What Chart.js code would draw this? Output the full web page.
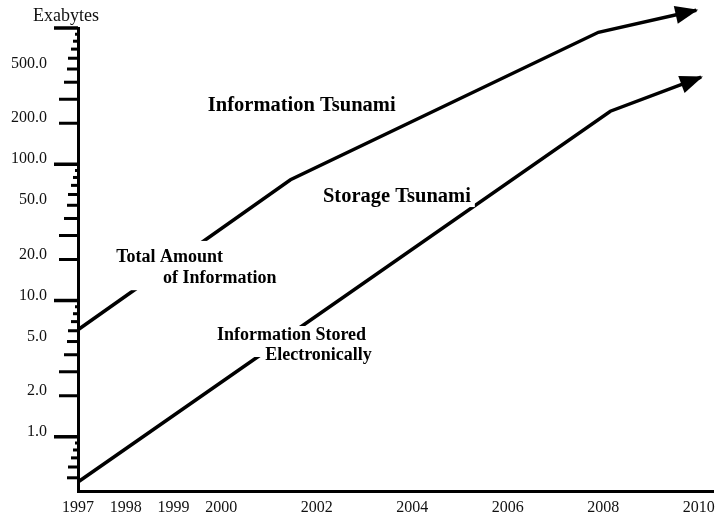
<!DOCTYPE html>
<html>
<head>
<meta charset="utf-8">
<script src="https://cdn.jsdelivr.net/npm/chart.js@4/dist/chart.umd.min.js"></script>
<style>
html,body{margin:0;padding:0;background:#fff;}
canvas{display:block;}
</style>
</head>
<body>
<canvas id="c" width="719" height="516"></canvas>
<script>
// ---- data ----
const xTickYears  = [1997, 1998, 1999, 2000, 2002, 2004, 2006, 2008, 2010];
const xTickLabels = ['1997', '1998', '1999', '2000', '2002', '2004', '2006', '2008', '2010'];
const yTickValues = [1, 2, 5, 10, 20, 50, 100, 200, 500];
const yTickLabels = ['1.0', '2.0', '5.0', '10.0', '20.0', '50.0', '100.0', '200.0', '500.0'];
const yAxisTitle = 'Exabytes';

const totalYears     = [1997, 2001.45, 2007.9, 2009.95];
const totalExabytes  = [6.1, 77, 930, 1350];
const storedYears    = [1997, 2008.15, 2010.05];
const storedExabytes = [0.466, 245, 436];

const noteTexts = [
  ['Information Tsunami'],
  ['Storage Tsunami'],
  ['Total Amount', 'of Information'],
  ['Information Stored', 'Electronically']
];
// anchor of each text line (left edge, baseline) in data units
const noteYears  = [[1999.72], [2002.13], [1997.80, 1998.78], [1999.91, 2000.92]];
const noteValues = [[245], [52.8], [19.2, 13.4], [5.13, 3.66]];

// ---- styling ----
const SERIF = "'Liberation Serif', 'Times New Roman', serif";
const noteStyle = [
  {size: 20.5, pad: {top: 16, bottom: 5, x: 4}},
  {size: 20.5, pad: {top: 16, bottom: 5, x: 4}},
  {size: 18,   pad: {top: 21, bottom: 7, x: 8}},
  {size: 18,   pad: {top: 14, bottom: -3, x: 8}}
];
const minorTickLen = [24, 19, 19, 14, 11, 10, 7, 5, 3];

function pairs(xs, ys) { return xs.map((x, i) => ({x: x, y: ys[i]})); }

const decorations = {
  id: 'decorations',
  afterDatasetsDraw(chart) {
    const ctx = chart.ctx;
    const xs = chart.scales.x, ys = chart.scales.y;
    // arrowheads
    chart.data.datasets.forEach((ds, i) => {
      const pts = chart.getDatasetMeta(i).data;
      const a = pts[pts.length - 2], b = pts[pts.length - 1];
      const ang = Math.atan2(b.y - a.y, b.x - a.x);
      ctx.save();
      ctx.translate(b.x, b.y);
      ctx.rotate(ang);
      ctx.beginPath();
      ctx.moveTo(2, 0);
      ctx.lineTo(-21, -9);
      ctx.lineTo(-21, 9);
      ctx.closePath();
      ctx.fillStyle = '#000';
      ctx.fill();
      ctx.restore();
    });
    // text notes with white boxes
    noteTexts.forEach((lines, n) => {
      const st = noteStyle[n];
      ctx.save();
      ctx.font = 'bold ' + st.size + 'px ' + SERIF;
      const items = lines.map((t, k) => {
        const px = xs.getPixelForValue(noteYears[n][k]);
        const py = ys.getPixelForValue(noteValues[n][k]);
        return {t, px, py, w: ctx.measureText(t).width};
      });
      const left = Math.min(...items.map(o => o.px)) - st.pad.x;
      const right = Math.max(...items.map(o => o.px + o.w)) + st.pad.x;
      const top = items[0].py - st.pad.top;
      const bottom = items[items.length - 1].py + st.pad.bottom;
      ctx.fillStyle = '#fff';
      ctx.fillRect(left, top, right - left, bottom - top);
      ctx.fillStyle = '#000';
      ctx.textBaseline = 'alphabetic';
      ctx.textAlign = 'left';
      items.forEach(o => ctx.fillText(o.t, o.px, o.py));
      ctx.restore();
    });
  },
  afterDraw(chart) {
    const ctx = chart.ctx;
    const ys = chart.scales.y;
    const x0 = ys.right;
    ctx.save();
    ctx.fillStyle = '#000';
    for (let k = -1; k <= 3; k++) {
      for (let m = 1; m <= 9; m++) {
        const v = m * Math.pow(10, k);
        if (v <= ys.min * 1.01 || v > ys.max * 1.001) continue;
        const py = ys.getPixelForValue(v);
        const len = minorTickLen[m - 1];
        const h = m === 1 ? 3.5 : 3;
        ctx.fillRect(x0 - len, py - h / 2, len, h);
      }
    }
    ctx.font = '18px ' + SERIF;
    ctx.textAlign = 'center';
    ctx.textBaseline = 'alphabetic';
    ctx.fillStyle = '#111';
    ctx.fillText(yAxisTitle, x0 - 12, chart.chartArea.top - 7);
    ctx.restore();
  }
};

new Chart(document.getElementById('c'), {
  type: 'line',
  data: {
    datasets: [
      {label: 'Total Amount of Information', data: pairs(totalYears, totalExabytes)},
      {label: 'Information Stored Electronically', data: pairs(storedYears, storedExabytes)}
    ]
  },
  options: {
    responsive: false,
    animation: false,
    devicePixelRatio: 1,
    layout: {padding: {top: 28, right: 6, left: 0, bottom: 0}},
    elements: {
      line: {borderColor: '#000', borderWidth: 3.5, tension: 0, fill: false},
      point: {radius: 0, hoverRadius: 0}
    },
    datasets: {line: {clip: false}},
    plugins: {legend: {display: false}, tooltip: {enabled: false}, title: {display: false}},
    scales: {
      x: {
        type: 'linear',
        min: 1997,
        max: 2010.3,
        afterFit: s => { s.height = 25; s.paddingLeft = 0; s.paddingRight = 0; s.paddingTop = 0; s.paddingBottom = 0; },
        afterBuildTicks: s => { s.ticks = xTickYears.map(v => ({value: v})); },
        grid: {display: false, drawTicks: false},
        border: {display: true, color: '#000', width: 3},
        ticks: {
          autoSkip: false,
          maxRotation: 0,
          padding: 7,
          color: '#111',
          font: {family: SERIF, size: 16},
          callback: v => { const i = xTickYears.indexOf(v); return i >= 0 ? xTickLabels[i] : ''; }
        }
      },
      y: {
        type: 'logarithmic',
        min: 0.4,
        max: 1000,
        afterFit: s => { s.width = 78; s.paddingLeft = 0; s.paddingRight = 0; s.paddingTop = 0; s.paddingBottom = 0; },
        afterBuildTicks: s => { s.ticks = yTickValues.map(v => ({value: v})); },
        grid: {display: false, drawTicks: false},
        border: {display: true, color: '#000', width: 3},
        ticks: {
          autoSkip: false,
          padding: 31,
          labelOffset: -5,
          color: '#111',
          font: {family: SERIF, size: 16},
          callback: v => { const i = yTickValues.indexOf(v); return i >= 0 ? yTickLabels[i] : ''; }
        }
      }
    }
  },
  plugins: [decorations]
});
</script>
</body>
</html>
